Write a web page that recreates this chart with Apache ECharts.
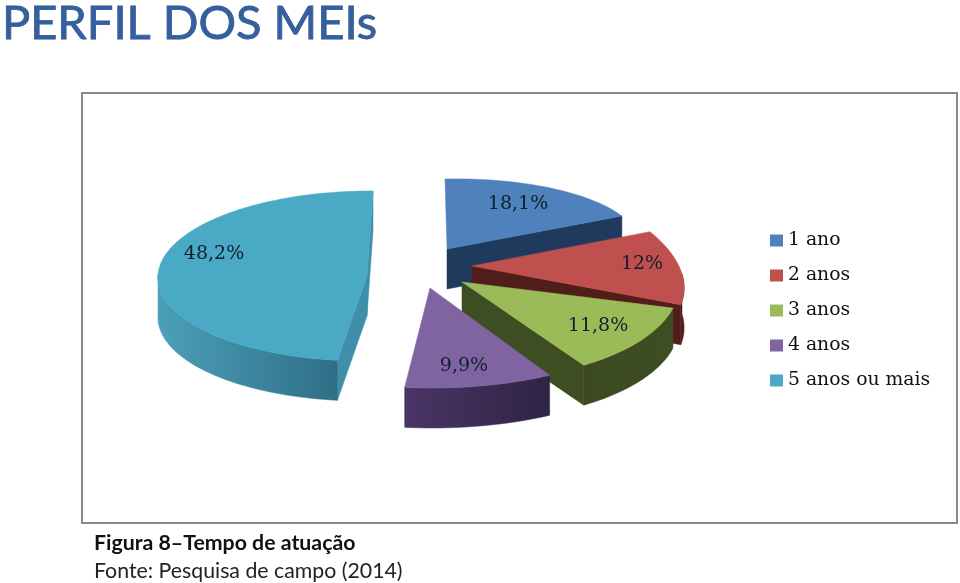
<!DOCTYPE html>
<html>
<head>
<meta charset="utf-8">
<style>html,body{margin:0;padding:0;background:#fff}#c{width:960px;height:583px}</style>
<script src="https://cdn.jsdelivr.net/npm/echarts@6/dist/echarts.min.js"></script>
</head>
<body>
<div id="c"></div>
<script>
const categories = ['1 ano', '2 anos', '3 anos', '4 anos', '5 anos ou mais'];
const percentValues = [18.1, 12, 11.8, 9.9, 48.2];
const percentLabels = ['18,1%', '12%', '11,8%', '9,9%', '48,2%'];

const topColors = ['#4f81bd', '#c0504d', '#9bbb59', '#8064a2', '#4aa9c5'];
const edgeColors = ['#1f3a5c', '#511d1b', '#3f4d22', '#3a2a52', '#3f8fab'];
const wallStops = [
  ['#1f3a5c', '#1f3a5c'], ['#5a1e1c', '#4e1a18'], ['#3f4d22', '#3c4a20'],
  ['#2f2444', '#4a3566'], ['#2f6f86', '#4c9fba']
];
// Projection of each exploded slice: apex, sine axis, cosine axis, label offset
const apexes = [[447, 249], [472, 266], [462, 282], [430, 288], [367, 276]];
const sineAxes = [[193.6, -4], [210, 8], [216, -5], [242, 0], [209, 1]];
const cosineAxes = [[-2, -70], [-30, -99], [-19, -98], [-2, -100], [6, -85]];
const labelOffsets = [[71, -45], [170, -2], [136, 44], [34, 78], [-153, -22]];
const wallDepth = 40;

const total = percentValues.reduce((a, b) => a + b, 0);
const startAngles = [];
percentValues.reduce((acc, v, i) => { startAngles[i] = acc; return acc + v / total * 2 * Math.PI; }, 0);

function makeRenderItem(i) {
  return function (params, api) {
    const sweep = api.value(0) / total * 2 * Math.PI;
    const a0 = startAngles[i], a1 = a0 + sweep;
    const A = apexes[i], U = sineAxes[i], V = cosineAxes[i];
    const P = (t, d) => [A[0] + U[0] * Math.sin(t) + V[0] * Math.cos(t),
                         A[1] + U[1] * Math.sin(t) + V[1] * Math.cos(t) + (d || 0)];
    const arc = (from, to, d) => {
      const pts = [], n = Math.max(2, Math.ceil((to - from) / 0.03));
      for (let k = 0; k <= n; k++) pts.push(P(from + (to - from) * k / n, d));
      return pts;
    };
    const children = [];
    const poly = (points, fill) => children.push({
      type: 'polygon', shape: { points }, style: { fill, stroke: fill, lineWidth: 0.5 }
    });
    const low = [A[0], A[1] + wallDepth];
    // radial walls facing the viewer
    if (Math.sin(a1) > -0.01) poly([A, P(a1), P(a1, wallDepth), low], edgeColors[i]);
    if (Math.sin(a0) < -0.01) poly([A, P(a0), P(a0, wallDepth), low], edgeColors[i]);
    // outer rim wall
    const f0 = Math.max(a0, Math.PI / 2), f1 = Math.min(a1, 1.5 * Math.PI);
    if (f1 > f0) {
      poly(arc(f0, f1, 0).concat(arc(f0, f1, wallDepth).reverse()), {
        type: 'linear', x: 0, y: 0, x2: 1, y2: 0,
        colorStops: [{ offset: 0, color: wallStops[i][1] }, { offset: 1, color: wallStops[i][0] }]
      });
    }
    // top face
    poly([A].concat(arc(a0, a1, 0)), topColors[i]);
    children.push({
      type: 'text',
      style: {
        x: A[0] + labelOffsets[i][0], y: A[1] + labelOffsets[i][1], text: percentLabels[i],
        align: 'center', verticalAlign: 'middle',
        font: '19px "DejaVu Serif"', fill: '#10202c'
      }
    });
    return { type: 'group', children };
  };
}

const chart = echarts.init(document.getElementById('c'), null, { renderer: 'canvas' });
chart.setOption({
  animation: false,
  backgroundColor: '#ffffff',
  color: topColors,
  title: {
    text: 'PERFIL DOS MEIs', left: -3, top: -5,
    textStyle: { fontFamily: 'Lato', fontSize: 47, fontWeight: 'normal', color: '#34609f',
      textBorderColor: '#2a4f86', textBorderWidth: 0.8 }
  },
  legend: {
    orient: 'vertical', left: 765, top: 225, itemWidth: 13, itemHeight: 12, itemGap: 14, icon: 'rect',
    data: categories, selectedMode: false,
    textStyle: { fontFamily: 'DejaVu Serif', fontSize: 18.8, color: '#111', lineHeight: 21 }
  },
  graphic: [
    { type: 'rect', shape: { x: 82, y: 93, width: 875, height: 430 }, style: { fill: 'none', stroke: '#8a8a8a', lineWidth: 2 }, silent: true },
    { type: 'text', style: { x: 94, y: 543, text: 'Figura 8–Tempo de atuação', font: 'bold 21.3px Lato', fill: '#111', verticalAlign: 'middle' } },
    { type: 'text', style: { x: 94, y: 571, text: 'Fonte: Pesquisa de campo (2014)', font: '21.3px Lato', fill: '#222', verticalAlign: 'middle' } }
  ],
  series: categories.map((name, i) => ({
    type: 'custom', name, coordinateSystem: 'none', silent: true, clip: false,
    z: 2 + i, itemStyle: { color: topColors[i] },
    renderItem: makeRenderItem(i),
    data: [[percentValues[i]]]
  }))
});
</script>
</body>
</html>
